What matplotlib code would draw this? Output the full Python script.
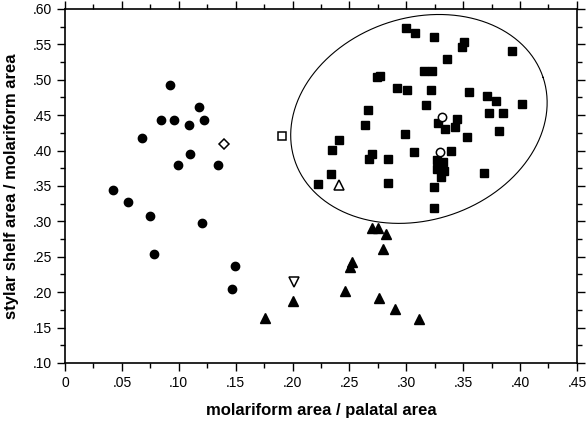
import numpy as np
import matplotlib
matplotlib.use('Agg')
import matplotlib.pyplot as plt
from matplotlib.ticker import MultipleLocator, FuncFormatter

# filled circles
circle_x = [0.092, 0.1175, 0.084, 0.096, 0.1224, 0.109, 0.0674, 0.110, 0.0996,
            0.1344, 0.0425, 0.0551, 0.0747, 0.1207, 0.078, 0.1494, 0.1465]
circle_y = [0.493, 0.461, 0.443, 0.443, 0.443, 0.436, 0.417, 0.395, 0.380,
            0.380, 0.344, 0.327, 0.3076, 0.297, 0.254, 0.2365, 0.205]

# filled squares
square_x = [0.2996, 0.3073, 0.3245, 0.3509, 0.3491, 0.3928, 0.3354, 0.3152,
            0.3222, 0.2744, 0.2765, 0.2915, 0.3005, 0.3219, 0.3547, 0.3711,
            0.3793, 0.4016, 0.3172, 0.2660, 0.3726, 0.3846, 0.3442, 0.3275,
            0.3339, 0.3430, 0.2634, 0.3816, 0.2990, 0.3533, 0.2405, 0.2344,
            0.3067, 0.3389, 0.2695, 0.2671, 0.2838, 0.3266, 0.3324, 0.3266,
            0.3330, 0.3304, 0.3685, 0.2340, 0.2221, 0.2838, 0.3245, 0.3240]
square_y = [0.5732, 0.5661, 0.5605, 0.5534, 0.5459, 0.5407, 0.5294, 0.5124,
            0.5124, 0.5040, 0.5054, 0.4884, 0.4860, 0.4856, 0.4823, 0.4775,
            0.4696, 0.4658, 0.4644, 0.4569, 0.4531, 0.4531, 0.4442, 0.4386,
            0.4305, 0.4329, 0.4366, 0.4281, 0.4239, 0.4188, 0.4150, 0.4008,
            0.3976, 0.3999, 0.3952, 0.3886, 0.3886, 0.3867, 0.3835, 0.3736,
            0.3712, 0.3623, 0.3679, 0.3669, 0.3528, 0.3538, 0.3482, 0.3189]

# filled triangles
tri_x = [0.1757, 0.200, 0.2695, 0.2753, 0.282, 0.2797, 0.2525, 0.2504,
         0.2463, 0.2759, 0.290, 0.311]
tri_y = [0.1636, 0.187, 0.291, 0.291, 0.282, 0.261, 0.243, 0.236,
         0.202, 0.192, 0.1763, 0.1626]

# single open symbols
open_diamond = (0.140, 0.409)
open_square = (0.1907, 0.421)
open_down_tri = (0.201, 0.214)
open_up_tri = (0.241, 0.352)
open_circle_x = [0.3315, 0.3298]
open_circle_y = [0.447, 0.3976]

# ellipse around the squares: centre, semi axes (data units), tilt (deg, on screen)
ell_center = (0.3111, 0.4446)
ell_a = 0.1151
ell_b = 0.1427
ell_tilt = 18.5

fig = plt.figure(figsize=(5.86, 4.24), dpi=100)
ax = fig.add_axes([0.111, 0.144, 0.8735, 0.835])

# ellipse drawn in screen-proportional units, then mapped back to data
sx, sy = 1138.0, 708.0  # px per data unit along x and y
t = np.linspace(0, 2 * np.pi, 400)
th = np.deg2rad(ell_tilt)
ex = ell_a * sx * np.cos(t)
ey = ell_b * sy * np.sin(t)
rx = ex * np.cos(th) - ey * np.sin(th)
ry = ex * np.sin(th) + ey * np.cos(th)
ax.plot(ell_center[0] + rx / sx, ell_center[1] + ry / sy, color='k', lw=0.8)

ax.plot(circle_x, circle_y, 'o', ms=6, color='k', ls='none')
ax.plot(square_x, square_y, 's', ms=5.8, color='k', ls='none')
ax.plot(tri_x, tri_y, '^', ms=7.2, color='k', ls='none')

open_kw = dict(mfc='white', mec='k', mew=1.1, ls='none')
ax.plot(*open_diamond, 'D', ms=5, **open_kw)
ax.plot(*open_square, 's', ms=6, **open_kw)
ax.plot(*open_down_tri, 'v', ms=7.5, **open_kw)
ax.plot(*open_up_tri, '^', ms=7.5, **open_kw)
ax.plot(open_circle_x, open_circle_y, 'o', ms=6, **open_kw)

ax.set_xlim(0, 0.45)
ax.set_ylim(0.10, 0.60)


def _fmt(v, pos):
    if abs(v) < 1e-9:
        return '0'
    return ('%.2f' % v).lstrip('0')


ax.xaxis.set_major_locator(MultipleLocator(0.05))
ax.xaxis.set_minor_locator(MultipleLocator(0.025))
ax.yaxis.set_major_locator(MultipleLocator(0.05))
ax.yaxis.set_minor_locator(MultipleLocator(0.025))
ax.xaxis.set_major_formatter(FuncFormatter(_fmt))
ax.yaxis.set_major_formatter(FuncFormatter(_fmt))

ax.tick_params(which='both', direction='out', top=True, right=True,
               width=1.0, labelsize=10)
ax.tick_params(which='major', length=6)
ax.tick_params(which='minor', length=3.5)
ax.tick_params(axis='y', which='both', right=True, labelright=False)
for lab in ax.get_xticklabels() + ax.get_yticklabels():
    lab.set_fontfamily('Liberation Sans')

for sp in ax.spines.values():
    sp.set_linewidth(1.2)

ax.set_xlabel('molariform area / palatal area', fontsize=12,
              fontweight='bold', family='Liberation Sans', labelpad=9)
ax.set_ylabel('stylar shelf area / molariform area', fontsize=12,
              fontweight='bold', family='Liberation Sans', labelpad=10)

fig.savefig('out.png', dpi=100)
